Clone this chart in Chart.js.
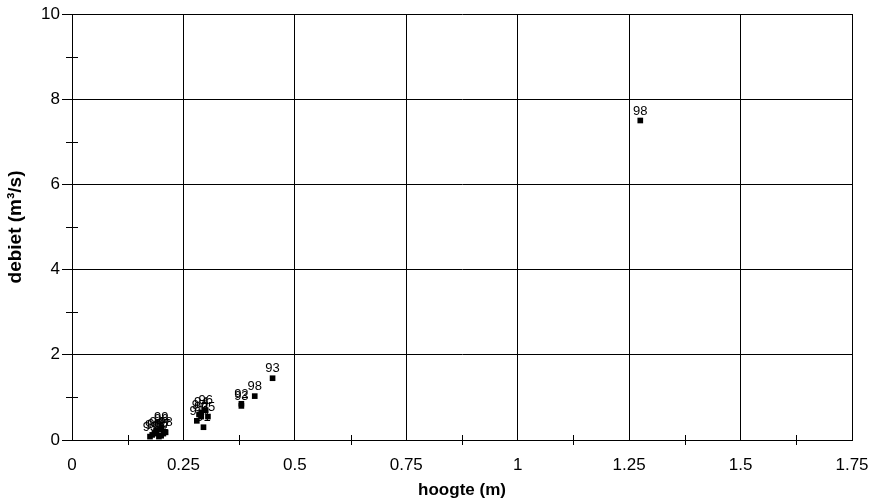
<!DOCTYPE html>
<html>
<head>
<meta charset="utf-8">
<script src="https://cdn.jsdelivr.net/npm/chart.js@4"></script>
<style>
  html,body{margin:0;padding:0;background:#fff;}
  #wrap{width:870px;height:504px;position:relative;}
</style>
</head>
<body>
<div id="wrap"><canvas id="c" width="870" height="504"></canvas></div>
<script>
// hoogte (m), debiet (m3/s) en jaartal-label per meting
const hoogte = [0.175,0.18,0.185,0.19,0.195,0.2,0.2,0.205,0.21,0.2,
                0.28,0.285,0.29,0.29,0.295,0.3,0.305,
                0.38,0.38,0.41,0.45,1.275];
const debiet = [0.08,0.12,0.15,0.2,0.08,0.25,0.1,0.15,0.18,0.3,
                0.45,0.6,0.55,0.65,0.3,0.7,0.55,
                0.8,0.85,1.03,1.45,7.5];
const jaren  = ["93","91","90","94","95","96","92","97","98","99",
                "92","97","93","94","91","96","95",
                "93","92","98","93","98"];
const xTicks = [0,0.25,0.5,0.75,1,1.25,1.5,1.75];
const yTicks = [0,2,4,6,8,10];

const $ = (id) => document.getElementById(id);
const FONT = "'Liberation Sans', Arial, sans-serif";

const points = hoogte.map((h,i)=>({x:h, y:debiet[i], label:jaren[i]}));

// jaartal boven elk punt
const labelPlugin = {
  id:"labels",
  afterDatasetsDraw(chart){
    const ctx = chart.ctx;
    const meta = chart.getDatasetMeta(0);
    ctx.save();
    ctx.font = "13px " + FONT;
    ctx.fillStyle = "#000";
    ctx.textAlign = "center";
    ctx.textBaseline = "bottom";
    meta.data.forEach((el,i)=>{
      ctx.fillText(points[i].label, el.x, el.y - 3);
    });
    ctx.restore();
  }
};

// kleine tussenstreepjes op de assen
const minorPlugin = {
  id:"minor",
  afterDraw(chart){
    const ctx = chart.ctx, xs = chart.scales.x, ys = chart.scales.y;
    ctx.save();
    ctx.strokeStyle = "#000"; ctx.lineWidth = 1;
    ctx.beginPath();
    for(let v=0.125; v<1.75; v+=0.25){
      const px = Math.round(xs.getPixelForValue(v)) + 0.5;
      ctx.moveTo(px, ys.bottom - 5); ctx.lineTo(px, ys.bottom + 5);
    }
    for(let v=1; v<10; v+=2){
      const py = Math.round(ys.getPixelForValue(v)) + 0.5;
      ctx.moveTo(xs.left - 6, py); ctx.lineTo(xs.left + 6, py);
    }
    ctx.stroke();
    ctx.restore();
  }
};

new Chart($("c"), {
  type:"scatter",
  data:{ datasets:[{
    data: points,
    pointStyle:"rect",
    pointRadius:4,
    pointBackgroundColor:"#000",
    pointBorderColor:"#000",
    pointBorderWidth:0
  }]},
  options:{
    responsive:false, animation:false,
    layout:{ padding:{ left:0, right:18, top:14, bottom:0 } },
    plugins:{ legend:{display:false}, tooltip:{enabled:false} },
    scales:{
      x:{
        type:"linear", min:0, max:1.75,
        afterBuildTicks(s){ s.ticks = xTicks.map(v=>({value:v})); },
        afterFit(s){ s.height = 64; s.paddingLeft = 0; s.paddingRight = 0; },
        grid:{ color:"#000", lineWidth:1, tickLength:0, drawTicks:false },
        border:{ color:"#000", width:1 },
        ticks:{ color:"#000", font:{family:FONT, size:17}, padding:15, maxRotation:0,
                callback:(v)=>String(v) },
        title:{ display:true, text:"hoogte (m)", color:"#000",
                font:{family:FONT, size:17, weight:"bold"}, padding:{top:0,bottom:3} }
      },
      y:{
        type:"linear", min:0, max:10,
        afterBuildTicks(s){ s.ticks = yTicks.map(v=>({value:v})); },
        afterFit(s){ s.width = 72; s.paddingTop = 0; s.paddingBottom = 0; },
        grid:{ color:"#000", lineWidth:1, tickLength:10, tickColor:"#000" },
        border:{ color:"#000", width:1 },
        ticks:{ color:"#000", font:{family:FONT, size:17}, padding:2,
                callback:(v)=>String(v) },
        title:{ display:true, text:"debiet (m³/s)", color:"#000",
                font:{family:FONT, size:19, weight:"bold"}, padding:{top:4,bottom:2} }
      }
    }
  },
  plugins:[labelPlugin, minorPlugin]
});
</script>
</body>
</html>
